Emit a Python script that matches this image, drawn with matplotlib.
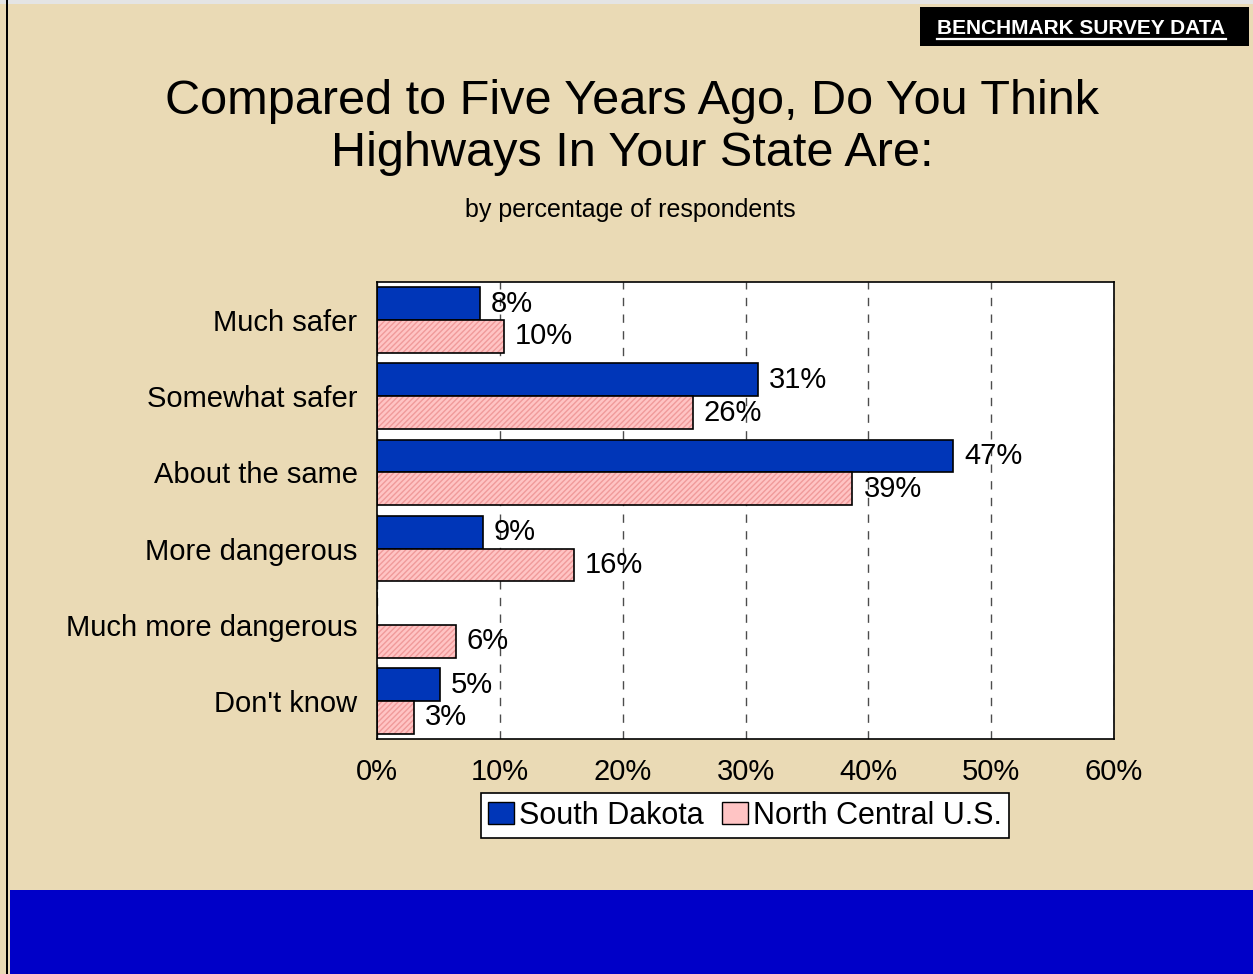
import numpy as np
import matplotlib.pyplot as plt
from matplotlib.patches import Rectangle, Patch

plt.rcParams["font.family"] = ["Liberation Sans", "DejaVu Sans"]

# data
categories = ["Much safer", "Somewhat safer", "About the same",
              "More dangerous", "Much more dangerous", "Don't know"]
south_dakota = [8.4, 31.0, 46.9, 8.6, 0.0, 5.1]
north_central = [10.3, 25.7, 38.7, 16.0, 6.4, 3.0]
sd_labels = ["8%", "31%", "47%", "9%", "", "5%"]
nc_labels = ["10%", "26%", "39%", "16%", "6%", "3%"]
x_ticks = [0, 10, 20, 30, 40, 50, 60]
x_ticklabels = ["0%", "10%", "20%", "30%", "40%", "50%", "60%"]

W, H = 1253, 974
BG = "#EADAB5"
BLUE = "#0036B8"
PINK = "#FFC4C4"
HATCH_PINK = "#F09A9A"

fig = plt.figure(figsize=(W / 100, H / 100), dpi=100)
fig.patch.set_facecolor(BG)

# frame decorations: top strip, left border, blue band at the bottom
fig.add_artist(Rectangle((0, 1 - 4 / H), 1, 4 / H, transform=fig.transFigure,
                         facecolor="#E4E4E4", edgecolor="none"))
fig.add_artist(Rectangle((6 / W, 0), 2 / W, 1, transform=fig.transFigure,
                         facecolor="black", edgecolor="none"))
fig.add_artist(Rectangle((10 / W, 0), 1 - 10 / W, 84 / H, transform=fig.transFigure,
                         facecolor="#0000C8", edgecolor="none"))

# header tag
fig.add_artist(Rectangle((920 / W, 1 - 46 / H), 329 / W, 39 / H, transform=fig.transFigure,
                         facecolor="black", edgecolor="none"))
fig.text(1081 / W, 1 - 28 / H, "BENCHMARK SURVEY DATA", color="white",
         fontsize=15, fontweight="bold", ha="center", va="center")
fig.add_artist(plt.Line2D([937 / W, 1226 / W], [1 - 39 / H, 1 - 39 / H],
                          transform=fig.transFigure, color="white", linewidth=1.6))

# titles
fig.text(632 / W, 1 - 127 / H, "Compared to Five Years Ago, Do You Think\nHighways In Your State Are:",
         fontsize=35, ha="center", va="center", linespacing=1.2)
fig.text(630 / W, 1 - 210 / H, "by percentage of respondents", fontsize=18,
         ha="center", va="center")

# plot area
ax = fig.add_axes([377 / W, 1 - 739 / H, (1114 - 377) / W, (739 - 282) / H])
ax.set_facecolor("white")

y = np.arange(len(categories))
h = 0.43
ax.barh(y - h / 2, south_dakota, height=h, color=BLUE, edgecolor="black", linewidth=1.2)
ax.barh(y + h / 2, north_central, height=h, color=PINK, edgecolor=HATCH_PINK,
        linewidth=0, hatch="//////")
ax.barh(y + h / 2, north_central, height=h, color="none", edgecolor="black", linewidth=1.2)

for yi, v, lab in zip(y, south_dakota, sd_labels):
    if lab:
        ax.text(v + 0.9, yi - h / 2, lab, fontsize=21, va="center", ha="left")
for yi, v, lab in zip(y, north_central, nc_labels):
    ax.text(v + 0.9, yi + h / 2, lab, fontsize=21, va="center", ha="left")

ax.set_xlim(0, 60)
ax.set_ylim(len(categories) - 0.5, -0.5)
ax.set_xticks(x_ticks)
ax.set_xticklabels(x_ticklabels, fontsize=21)
ax.set_yticks(y)
ax.set_yticklabels(categories, fontsize=21)
ax.tick_params(length=0, pad=14)
ax.set_axisbelow(True)
ax.grid(axis="x", color="black", linestyle=(0, (6, 6)), linewidth=1, alpha=0.7)
for s in ax.spines.values():
    s.set_color("black")
    s.set_linewidth(1.2)

handles = [Patch(facecolor=BLUE, edgecolor="black", label="South Dakota"),
           Patch(facecolor=PINK, edgecolor="black", label="North Central U.S.")]
leg = fig.legend(handles=handles, loc="center", bbox_to_anchor=(745 / W, 1 - 815.5 / H),
                 ncol=2, fontsize=22, frameon=True, fancybox=False, edgecolor="black",
                 framealpha=1, handlelength=0.85, handleheight=0.75, handletextpad=0.15,
                 columnspacing=0.6, borderpad=0.25, borderaxespad=0)
leg.get_frame().set_linewidth(1.2)

fig.savefig("out.png", dpi=100, facecolor=fig.get_facecolor())
